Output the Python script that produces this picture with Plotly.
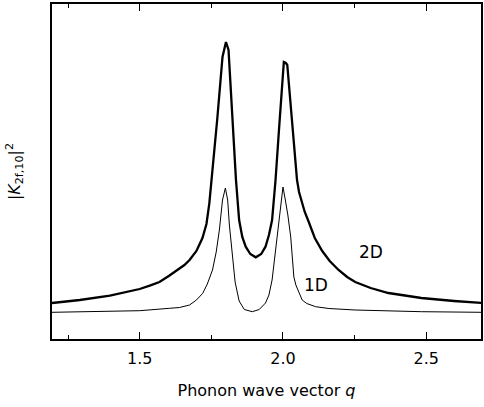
import plotly.graph_objects as go

# Phonon wave vector q and |K_{2f,10}|^2 (arbitrary units)
q_2d = [1.194, 1.291, 1.396, 1.500, 1.535, 1.569, 1.604, 1.639, 1.656, 1.674,
        1.698, 1.719, 1.733, 1.743, 1.753, 1.771, 1.789, 1.801, 1.810, 1.823,
        1.836, 1.847, 1.858, 1.870, 1.886, 1.905, 1.924, 1.939, 1.951, 1.962,
        1.974, 1.986, 1.997, 2.000, 2.003, 2.010, 2.015, 2.031, 2.049, 2.056,
        2.067, 2.076, 2.090, 2.111, 2.137, 2.163, 2.194, 2.224, 2.252, 2.306,
        2.368, 2.483, 2.597, 2.693]
k_2d = [36, 39, 43.3, 50, 53.3, 57, 63.5, 70, 74, 79,
        88, 101, 115, 135.7, 164, 221, 282, 297, 289, 224,
        159, 119, 102, 92.3, 85, 81.7, 85, 92.3, 104, 119,
        159, 209, 259, 275, 277, 276, 274, 220, 159, 147,
        135, 127, 117, 101, 88, 78, 69, 62, 57, 51,
        46, 41, 38, 36]

q_1d = [1.194, 1.361, 1.500, 1.604, 1.639, 1.674, 1.698, 1.720, 1.736, 1.754,
        1.767, 1.778, 1.789, 1.799, 1.807, 1.813, 1.823, 1.833, 1.847, 1.865,
        1.893, 1.917, 1.939, 1.951, 1.962, 1.972, 1.986, 1.993, 2.000, 2.007,
        2.017, 2.027, 2.031, 2.038, 2.045, 2.056, 2.067, 2.083, 2.114, 2.160,
        2.252, 2.483, 2.693]
k_1d = [26.7, 27.5, 28.3, 30.7, 31.5, 34, 39, 45.7, 55, 69,
        87, 109, 139, 151, 139, 114, 84, 57, 38, 29.5,
        27.3, 29.5, 36, 44, 59, 84, 119, 139, 152, 141,
        124, 102, 84, 62, 54, 46, 39, 35.5, 32.3, 30.5,
        29, 27.3, 26.7]

x_ticks = [1.5, 2.0, 2.5]
x_tick_labels = ["1.5", "2.0", "2.5"]
x_minor_ticks = [1.25, 1.75, 2.25]

FONT = "DejaVu Sans"

fig = go.Figure()
fig.add_trace(go.Scatter(x=q_1d, y=k_1d, mode="lines",
                         line=dict(color="black", width=1),
                         showlegend=False, hoverinfo="skip"))
fig.add_trace(go.Scatter(x=q_2d, y=k_2d, mode="lines",
                         line=dict(color="black", width=2.3),
                         showlegend=False, hoverinfo="skip"))

fig.add_annotation(x=2.306, y=87, text="2D", showarrow=False,
                   font=dict(family=FONT, size=17, color="black"))
fig.add_annotation(x=2.115, y=54, text="1D", showarrow=False,
                   font=dict(family=FONT, size=17, color="black"))

fig.update_layout(
    width=484, height=407,
    margin=dict(l=52, r=1, t=4, b=68),
    paper_bgcolor="white", plot_bgcolor="white",
    font=dict(family=FONT, size=16, color="black"),
    xaxis=dict(
        range=[1.194, 2.691],
        tickvals=x_ticks, ticktext=x_tick_labels,
        ticks="inside", ticklen=7, tickwidth=1, tickcolor="black",
        minor=dict(ticks="inside", ticklen=4, tickwidth=1, tickcolor="black",
                   tickvals=x_minor_ticks),
        showline=True, linecolor="black", linewidth=1.5, mirror="ticks",
        showgrid=False, zeroline=False,
        ticklabelstandoff=4,
        tickfont=dict(family=FONT, size=16),
        title=dict(text="Phonon wave vector <i>q</i>", standoff=18,
                   font=dict(family=FONT, size=16)),
    ),
    yaxis=dict(
        range=[0, 335],
        showticklabels=False, ticks="",
        showline=True, linecolor="black", linewidth=1.5, mirror=True,
        showgrid=False, zeroline=False,
        title=dict(text="|<i>K</i><sub>2f,10</sub>|<sup>2</sup>", standoff=26,
                   font=dict(family=FONT, size=16)),
    ),
)

fig.write_html("out.html", config={"displayModeBar": False},
               post_script="document.body.style.margin='0';document.body.style.overflow='hidden';")
